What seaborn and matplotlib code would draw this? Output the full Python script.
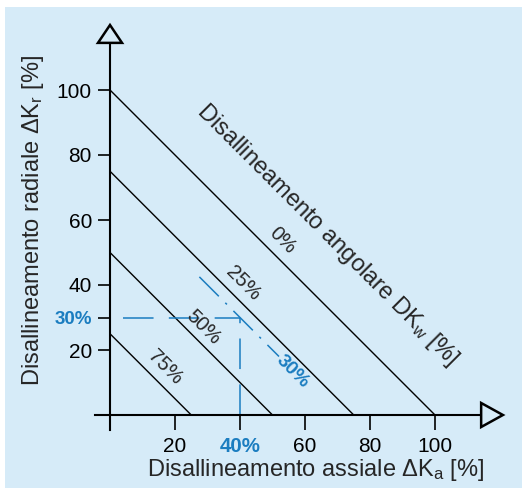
#!/usr/bin/env python3
import numpy as np
import pandas as pd
import matplotlib
matplotlib.use("Agg")
import matplotlib.pyplot as plt
from matplotlib.patches import Rectangle, Polygon
import seaborn as sns

# 数据
angular_pct = [0, 25, 50, 75]            # disallineamento angolare [%]
x_ticks = [20, 40, 60, 80, 100]
x_tick_labels = ["20", "40%", "60", "80", "100"]
y_ticks = [20, 30, 40, 60, 80, 100]
y_tick_labels = ["20", "30%", "40", "60", "80", "100"]
example_axial = 40     # esempio: assiale
example_radial = 30    # esempio: radiale
example_angular = 30   # esempio: angolare
example_line_x = [27.5, 52.0]

BG = "#d6ebf8"
BLUE = "#1b7dc0"

sns.set_theme(style="white")
plt.rcParams["font.family"] = ["Liberation Sans", "DejaVu Sans"]
plt.rcParams["mathtext.fontset"] = "custom"
plt.rcParams["mathtext.rm"] = "Liberation Sans"
plt.rcParams["mathtext.it"] = "Liberation Sans"

fig = plt.figure(figsize=(5.25, 4.9), dpi=100)
fig.patch.set_facecolor("white")

ax = fig.add_axes([0, 0, 1, 1])
ax.patch.set_alpha(0)
ax.add_patch(Rectangle((5 / 525, 2 / 490), 517 / 525, 481 / 490,
                       transform=fig.transFigure, facecolor=BG,
                       edgecolor="none", zorder=-10, clip_on=False))
# 3.25 px per unit, origin at pixel (110, 415)
ax.set_xlim(-110 / 3.25, 415 / 3.25)
ax.set_ylim(-75 / 3.25, 415 / 3.25)

# linee di disallineamento angolare
rows = []
for p in angular_pct:
    rows.append({"x": 0, "y": 100 - p, "g": p})
    rows.append({"x": 100 - p, "y": 0, "g": p})
df = pd.DataFrame(rows)
sns.lineplot(data=df, x="x", y="y", units="g", estimator=None,
             color="black", lw=1.0, ax=ax, legend=False)

label_pos = {0: (53.2, 53.8), 25: (41.0, 40.6), 50: (28.6, 27.1), 75: (16.9, 14.8)}
for p in angular_pct:
    lx, ly = label_pos[p]
    ax.text(lx, ly, f"{p}%", rotation=-45, rotation_mode="anchor",
            ha="center", va="center", fontsize=14.5)

# esempio in blu
ax.plot([4, example_axial, example_axial], [example_radial, example_radial, 0],
        color=BLUE, lw=1.1, dashes=(20, 10))
s = 100 - example_angular
ax.plot(example_line_x, [s - v for v in example_line_x], color=BLUE, lw=1.1,
        dashes=(18, 6, 1.5, 6))
ax.text(56.3, 13.2, f"{example_angular}%", rotation=-45, rotation_mode="anchor",
        ha="center", va="center", fontsize=14, fontweight="bold", color=BLUE)

# assi
for side in ["top", "right"]:
    ax.spines[side].set_visible(False)
ax.spines["left"].set_position(("data", 0))
ax.spines["bottom"].set_position(("data", 0))
ax.spines["left"].set_bounds(-4.6, 114.5)
ax.spines["bottom"].set_bounds(-4.6, 114.2)
for side in ["left", "bottom"]:
    ax.spines[side].set_linewidth(1.5)
    ax.spines[side].set_color("black")

ax.set_xticks(x_ticks, x_tick_labels)
ax.set_yticks(y_ticks, y_tick_labels)
ax.tick_params(axis="x", direction="out", length=11, width=1.2, pad=5,
               labelsize=15, colors="black", bottom=True)
ax.tick_params(axis="y", direction="out", length=9, width=1.2, pad=4,
               labelsize=15, colors="black", left=True)
for lab in ax.get_xticklabels() + ax.get_yticklabels():
    if "%" in lab.get_text():
        lab.set_color(BLUE)
        lab.set_fontweight("bold")
ax.get_yticklabels()[1].set_fontsize(13.5)
ax.get_xticklabels()[1].set_fontsize(14.8)

# frecce
ax.add_patch(Polygon([(114.2, -3.7), (114.2, 3.7), (120.9, 0)], closed=True,
                     facecolor=BG, edgecolor="black", lw=1.8, zorder=3,
                     clip_on=False))
ax.add_patch(Polygon([(-3.7, 114.5), (3.7, 114.5), (0, 120.0)], closed=True,
                     facecolor=BG, edgecolor="black", lw=1.8, zorder=3,
                     clip_on=False))

# etichette
ax.set_xlabel("")
ax.set_ylabel("")
ax.text(63.4, -16.9, r"Disallineamento assiale ΔK$_\mathregular{a}$ [%]",
        ha="center", va="center", fontsize=17)
ax.text(-23.6, 60.0, r"Disallineamento radiale ΔK$_\mathregular{r}$ [%]",
        ha="center", va="center", fontsize=17, rotation=90)
ax.text(66.8, 55.4, r"Disallineamento angolare DK$_\mathregular{w}$ [%]",
        ha="center", va="center", fontsize=17, rotation=-45,
        rotation_mode="anchor")

fig.savefig("out.png", dpi=100)
